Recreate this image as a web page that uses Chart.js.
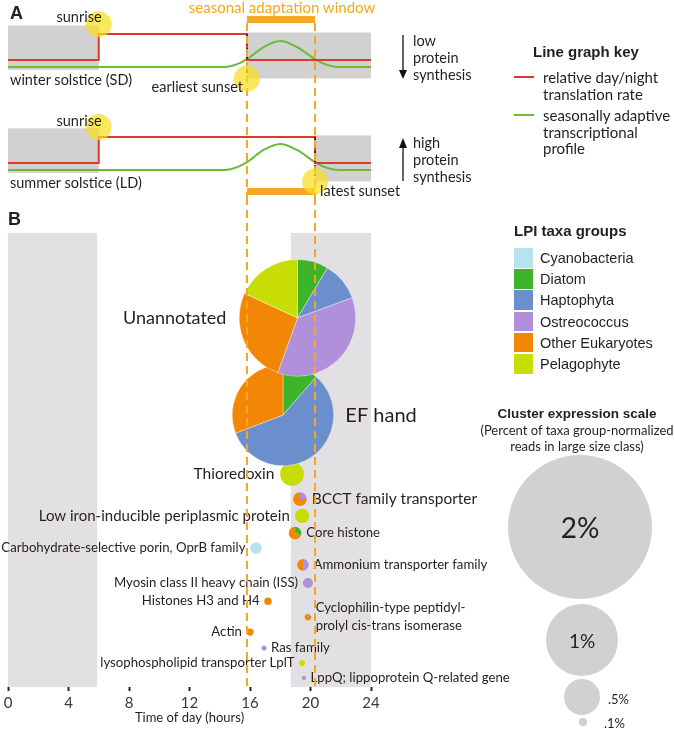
<!DOCTYPE html>
<html>
<head>
<meta charset="utf-8">
<script src="https://cdn.jsdelivr.net/npm/chart.js@4.4.1/dist/chart.umd.min.js"></script>
<style>
  html, body { margin: 0; padding: 0; background: #fff; }
  #fig { position: relative; width: 674px; height: 729px; overflow: hidden; font-family: Lato, sans-serif; color: #231f20; }
  #fig canvas { position: absolute; left: 0; }
  .t { position: absolute; white-space: pre; line-height: 1; }
  .sw, .dot, .key { position: absolute; }
  .dot { border-radius: 50%; background: #d1d1d1; }
</style>
</head>
<body>
<div id="fig">
  <canvas id="panelA" width="674" height="200" style="top:0"></canvas>
  <canvas id="panelB" width="674" height="529" style="top:200px"></canvas>
</div>
<script>
// ---- shared time of day (hours) ----
const sunriseHour = 6.0;
const earliestSunset = 15.8;   // winter solstice (SD)
const latestSunset = 20.3;     // summer solstice (LD)

// ---- panel A: relative translation rate (0 = night, 1 = day) ----
const winterHours = [0, sunriseHour, earliestSunset, 24];
const winterRate = [0, 1, 0, 0];
const summerHours = [0, sunriseHour, latestSunset, 24];
const summerRate = [0, 1, 0, 0];
// seasonally adaptive transcriptional profile, same units
const profileHours = [0, 14.3, 15.2, 15.8, 16.9, 18.0, 19.1, 20.3, 20.9, 21.9, 24];
const profileLevel = [-0.27, -0.27, -0.15, 0.03, 0.5, 0.73, 0.5, 0.03, -0.15, -0.27, -0.27];

// ---- panel B: clusters ----
const clusterNames = [
  'Unannotated', 'EF hand', 'Thioredoxin', 'BCCT family transporter',
  'Low iron-inducible periplasmic protein', 'Core histone',
  'Carbohydrate-selective porin, OprB family', 'Ammonium transporter family',
  'Myosin class II heavy chain (ISS)', 'Histones H3 and H4',
  'Cyclophilin-type peptidyl-\nprolyl cis-trans isomerase', 'Actin', 'Ras family',
  'lysophospholipid transporter LplT', 'LppQ; lippoprotein Q-related gene'
];
const peakHour = [19.14, 18.18, 18.78, 19.3, 19.44, 18.98, 16.4, 19.5, 19.83, 17.19, 19.83, 16.0, 16.93, 19.44, 19.57];
const rowPos = [18.7, 40.1, 53.1, 58.6, 62.3, 66.1, 69.4, 73.1, 77.1, 81.1, 84.6, 87.9, 91.4, 94.7, 98.0];
const exprPct = [1.62, 1.41, 0.33, 0.19, 0.2, 0.175, 0.16, 0.16, 0.14, 0.105, 0.09, 0.1, 0.07, 0.085, 0.06];

// share of each taxa group in a cluster (%)
const taxaGroups = ['Cyanobacteria', 'Diatom', 'Haptophyta', 'Ostreococcus', 'Other Eukaryotes', 'Pelagophyte'];
const cyanoShare  = [0, 0, 0, 0, 0, 0, 100, 0, 0, 0, 0, 0, 0, 0, 0];
const diatomShare = [8.6, 11.4, 0, 0, 0, 30, 0, 0, 0, 0, 0, 0, 0, 0, 0];
const haptoShare  = [10.8, 57.8, 0, 0, 0, 0, 0, 0, 0, 0, 0, 0, 0, 0, 0];
const ostreoShare = [36.1, 0, 0, 25, 0, 0, 0, 50, 100, 0, 15, 0, 100, 0, 100];
const otherShare  = [26.4, 30.8, 0, 75, 0, 70, 0, 50, 0, 100, 85, 100, 0, 0, 0];
const pelagoShare = [18.1, 0, 100, 0, 100, 0, 0, 0, 0, 0, 0, 0, 0, 100, 0];
const shares = [cyanoShare, diatomShare, haptoShare, ostreoShare, otherShare, pelagoShare];

// sampling light period in panel B
const lightOnHour = 5.9;
const lightOffHour = 18.7;
const scalePcts = [2, 1, 0.5, 0.1];

// ---- styles ----
const colors = {
  red: '#e0382b', green: '#6dbb35', orange: '#f6a623', sun: 'rgba(248,222,30,0.72)',
  nightA: '#d1d1d1', nightB: '#e2e0e2', text: '#231f20'
};
const taxaColors = ['#b5e4ef', '#3db52b', '#6b8fcc', '#b08fdb', '#f28705', '#c8dc05'];
const pxPerPct = 36;
const labelSide = ['left', 'right', 'left', 'right', 'left', 'right', 'left', 'right', 'left', 'left', 'right', 'left', 'right', 'left', 'right'];
const labelSize = [18, 20, 15.5, 15.5, 15, 13.2, 13.2, 13.2, 13.2, 13.2, 13.2, 13.2, 13.2, 13.2, 13.2];
// panel A layout in rate units
const summerOffset = -3.96;
const band = { leftTop: 1.33, leftBottom: -0.38, rightTop: 1.06, rightBottom: -0.71 };
const seasons = [
  { off: 0, sunset: earliestSunset },
  { off: summerOffset, sunset: latestSunset }
];

const fig = document.getElementById('fig');
const T = (txt, x, y, css = '', align = 'left') => {
  const d = document.createElement('div');
  d.className = 't';
  d.textContent = txt;
  d.style.cssText += `left:${x}px;top:${y}px;${css}`;
  const tx = align === 'center' ? '-50%' : align === 'right' ? '-100%' : '0';
  d.style.transform = `translate(${tx},-50%)`;
  fig.appendChild(d);
};

// Panel A extras: night shading, sunsets, suns, window bars
const panelAExtras = {
  id: 'panelAExtras',
  beforeDatasetsDraw(chart) {
    const { ctx, scales: { x, y } } = chart;
    ctx.save();
    ctx.fillStyle = colors.nightA;
    seasons.forEach(s => {
      const l0 = x.getPixelForValue(0), l1 = x.getPixelForValue(sunriseHour);
      ctx.fillRect(l0, y.getPixelForValue(s.off + band.leftTop), l1 - l0,
        y.getPixelForValue(s.off + band.leftBottom) - y.getPixelForValue(s.off + band.leftTop));
      const r0 = x.getPixelForValue(s.sunset), r1 = x.getPixelForValue(24);
      ctx.fillRect(r0, y.getPixelForValue(s.off + band.rightTop), r1 - r0,
        y.getPixelForValue(s.off + band.rightBottom) - y.getPixelForValue(s.off + band.rightTop));
    });
    ctx.restore();
  },
  afterDatasetsDraw(chart) {
    const { ctx, scales: { x, y } } = chart;
    ctx.save();
    // black dashed sunset drop
    ctx.strokeStyle = '#222';
    ctx.lineWidth = 1.5;
    ctx.setLineDash([4, 3]);
    seasons.forEach(s => {
      const px = x.getPixelForValue(s.sunset);
      ctx.beginPath();
      ctx.moveTo(px, y.getPixelForValue(s.off + 1));
      ctx.lineTo(px, y.getPixelForValue(s.off + band.rightBottom));
      ctx.stroke();
    });
    // orange window lines + bars
    const w0 = x.getPixelForValue(earliestSunset), w1 = x.getPixelForValue(latestSunset);
    ctx.strokeStyle = colors.orange;
    ctx.lineWidth = 2;
    ctx.setLineDash([8, 5]);
    [w0, w1].forEach(px => {
      ctx.beginPath();
      ctx.moveTo(px, y.getPixelForValue(1.42));
      ctx.lineTo(px, chart.height);
      ctx.stroke();
    });
    ctx.setLineDash([]);
    ctx.fillStyle = colors.orange;
    ctx.fillRect(w0, y.getPixelForValue(1.69), w1 - w0, y.getPixelForValue(1.42) - y.getPixelForValue(1.69));
    ctx.fillRect(w0, y.getPixelForValue(summerOffset - 0.96), w1 - w0,
      y.getPixelForValue(summerOffset - 1.23) - y.getPixelForValue(summerOffset - 0.96));
    // suns
    ctx.fillStyle = colors.sun;
    seasons.forEach(s => {
      [[sunriseHour, s.off + band.leftTop + 0.05], [s.sunset, s.off + band.rightBottom]].forEach(([h, v]) => {
        ctx.beginPath();
        ctx.arc(x.getPixelForValue(h), y.getPixelForValue(v), 13, 0, Math.PI * 2);
        ctx.fill();
      });
    });
    // protein synthesis arrows
    ctx.fillStyle = '#111';
    ctx.strokeStyle = '#111';
    ctx.lineWidth = 1.3;
    ctx.beginPath(); ctx.moveTo(403, 35); ctx.lineTo(403, 72); ctx.stroke();
    ctx.beginPath(); ctx.moveTo(399, 70); ctx.lineTo(407, 70); ctx.lineTo(403, 79); ctx.fill();
    ctx.beginPath(); ctx.moveTo(403, 146); ctx.lineTo(403, 181); ctx.stroke();
    ctx.beginPath(); ctx.moveTo(399, 148); ctx.lineTo(407, 148); ctx.lineTo(403, 138); ctx.fill();
    ctx.restore();
  }
};

const pts = (hs, vs, off = 0) => hs.map((h, i) => ({ x: h, y: vs[i] + off }));
new Chart(document.getElementById('panelA'), {
  type: 'line',
  data: {
    datasets: [
      { data: pts(winterHours, winterRate), borderColor: colors.red, stepped: true },
      { data: pts(profileHours, profileLevel), borderColor: colors.green, cubicInterpolationMode: 'monotone' },
      { data: pts(summerHours, summerRate, summerOffset), borderColor: colors.red, stepped: true },
      { data: pts(profileHours, profileLevel, summerOffset), borderColor: colors.green, cubicInterpolationMode: 'monotone' }
    ]
  },
  options: {
    responsive: false, animation: false, events: [],
    layout: { autoPadding: false, padding: { left: 8, right: 303, top: 0, bottom: 0 } },
    elements: { point: { radius: 0 }, line: { borderWidth: 2 } },
    plugins: { legend: { display: false }, tooltip: { enabled: false } },
    scales: {
      x: { type: 'linear', display: false, min: 0, max: 24 },
      y: { display: false, min: -5.385, max: 2.308 }
    }
  },
  plugins: [panelAExtras]
});

// Panel B extras: light/dark shading, pie bubbles, labels, window lines
const panelBExtras = {
  id: 'panelBExtras',
  beforeDatasetsDraw(chart) {
    const { ctx, chartArea: a, scales: { x } } = chart;
    ctx.save();
    ctx.fillStyle = colors.nightB;
    [[0, lightOnHour], [lightOffHour, 24]].forEach(([h0, h1]) => {
      const p0 = x.getPixelForValue(h0), p1 = x.getPixelForValue(h1);
      ctx.fillRect(p0, a.top, p1 - p0, a.bottom - a.top);
    });
    ctx.restore();
  },
  afterDatasetsDraw(chart) {
    const { ctx, chartArea: a, scales: { x } } = chart;
    const meta = chart.getDatasetMeta(0);
    ctx.save();
    for (let i = meta.data.length - 1; i >= 0; i--) {
      const el = meta.data[i];
      const r = el.options.radius;
      const total = shares.reduce((s, arr) => s + arr[i], 0);
      let ang = -Math.PI / 2;
      shares.forEach((arr, g) => {
        if (!arr[i]) return;
        const sweep = arr[i] / total * Math.PI * 2;
        ctx.beginPath();
        ctx.moveTo(el.x, el.y);
        ctx.arc(el.x, el.y, r, ang, ang + sweep);
        ctx.closePath();
        ctx.fillStyle = taxaColors[g];
        ctx.fill();
        if (r > 20) {
          ctx.strokeStyle = 'rgba(255,255,255,0.55)';
          ctx.lineWidth = 0.7;
          ctx.stroke();
        }
        ang += sweep;
      });
    }
    // labels
    ctx.fillStyle = colors.text;
    ctx.textBaseline = 'middle';
    meta.data.forEach((el, i) => {
      const r = el.options.radius;
      const gap = 4 + r * 0.15;
      const lines = clusterNames[i].split('\n');
      const lh = labelSize[i] * 1.35;
      ctx.font = `${labelSize[i]}px Lato`;
      ctx.textAlign = labelSide[i] === 'left' ? 'right' : 'left';
      const tx = labelSide[i] === 'left' ? el.x - r - gap : el.x + r + gap;
      lines.forEach((ln, k) => {
        ctx.fillText(ln, tx, el.y + (k - (lines.length - 1) / 2) * lh);
      });
    });
    // seasonal window dashed lines
    ctx.strokeStyle = colors.orange;
    ctx.lineWidth = 2;
    ctx.setLineDash([8, 5]);
    ctx.lineDashOffset = 3;
    [earliestSunset, latestSunset].forEach(h => {
      const px = x.getPixelForValue(h);
      ctx.beginPath();
      ctx.moveTo(px, 0);
      ctx.lineTo(px, a.bottom);
      ctx.stroke();
    });
    ctx.restore();
  }
};

new Chart(document.getElementById('panelB'), {
  type: 'bubble',
  data: {
    datasets: [{
      data: clusterNames.map((n, i) => ({ x: peakHour[i], y: rowPos[i], r: exprPct[i] * pxPerPct })),
      backgroundColor: 'rgba(0,0,0,0)', borderWidth: 0
    }]
  },
  options: {
    responsive: false, animation: false, events: [],
    layout: { autoPadding: false, padding: { left: 8, right: 303, top: 33, bottom: 0 } },
    plugins: { legend: { display: false }, tooltip: { enabled: false } },
    scales: {
      x: {
        type: 'linear', min: 0, max: 24,
        afterFit: s => { s.height = 42; },
        ticks: { stepSize: 4, color: '#3a3a3a', font: { family: 'Lato', size: 15 }, padding: 3 },
        grid: { drawOnChartArea: false, drawTicks: true, tickLength: 4, tickWidth: 2, color: '#222' },
        border: { display: false },
        title: { display: true, text: 'Time of day (hours)', color: colors.text,
          font: { family: 'Lato', size: 13 }, padding: { top: 0, bottom: 3 } }
      },
      y: { display: false, min: 0, max: 100, reverse: true }
    }
  },
  plugins: [panelBExtras]
});

// ---- text and legends ----
const bodyFont = 'font-size:14.5px;';
T('A', 10, 13, 'font:bold 18px "Liberation Sans"');
T('seasonal adaptation window', 282, 7, 'font-size:15px;color:#f5a81c', 'center');
T('sunrise', 79, 17, bodyFont, 'center');
T('winter solstice (SD)', 10, 80, bodyFont);
T('earliest sunset', 243, 87, bodyFont, 'right');
T('sunrise', 79, 121, bodyFont, 'center');
T('summer solstice (LD)', 10, 183, bodyFont);
T('latest sunset', 320, 191, bodyFont);
T('low\nprotein\nsynthesis', 413, 57, bodyFont + 'line-height:17px');
T('high\nprotein\nsynthesis', 413, 159, bodyFont + 'line-height:17px');
T('Line graph key', 533, 51, 'font:bold 15px "Liberation Sans"');
T('relative day/night\ntranslation rate', 543, 85.5, 'font-size:15px;line-height:17px');
T('seasonally adaptive\ntranscriptional\nprofile', 543, 132, 'font-size:15px;line-height:16.5px');
[[colors.red, 77], [colors.green, 115]].forEach(([c, yy]) => {
  const k = document.createElement('div');
  k.className = 'key';
  k.style.cssText += `left:514px;top:${yy - 1}px;width:20px;height:2px;background:${c}`;
  fig.appendChild(k);
});

T('B', 8, 219, 'font:bold 18px "Liberation Sans"');
T('LPI taxa groups', 514, 230, 'font:bold 15px "Liberation Sans"');
taxaGroups.forEach((g, i) => {
  const top = 248 + i * 21.2;
  const s = document.createElement('div');
  s.className = 'sw';
  s.style.cssText += `left:514px;top:${top}px;width:19px;height:19.5px;background:${taxaColors[i]}`;
  fig.appendChild(s);
  T(g, 540, top + 10, 'font:14.5px "Liberation Sans"');
});

T('Cluster expression scale', 577, 413, 'font:bold 13.5px "Liberation Sans"', 'center');
T('(Percent of taxa group-normalized\nreads in large size class)', 577, 438, 'font-size:13px;line-height:16px;text-align:center', 'center');
const scaleCenters = [[580, 527], [582, 640], [582, 697], [583, 722]];
scalePcts.forEach((p, i) => {
  const r = p * pxPerPct;
  const [cx, cy] = scaleCenters[i];
  const d = document.createElement('div');
  d.className = 'dot';
  d.style.cssText += `left:${cx - r}px;top:${cy - r}px;width:${2 * r}px;height:${2 * r}px`;
  fig.appendChild(d);
});
T('2%', 580, 527, 'font-size:28px', 'center');
T('1%', 582, 640, 'font-size:19px', 'center');
T('.5%', 608, 699, 'font-size:13px');
T('.1%', 604, 723, 'font-size:13px');
</script>
</body>
</html>
